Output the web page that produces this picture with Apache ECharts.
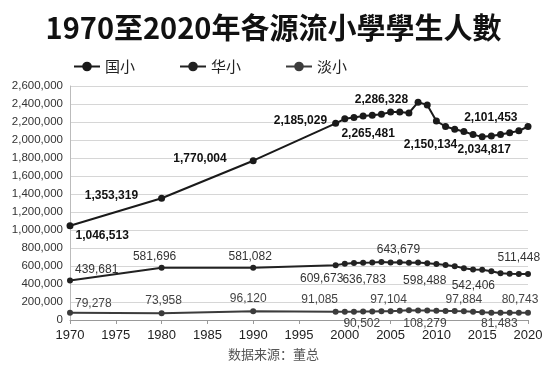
<!DOCTYPE html>
<html>
<head>
<meta charset="utf-8">
<script src="https://cdn.jsdelivr.net/npm/echarts@6/dist/echarts.min.js"></script>
<style>
  html, body { margin: 0; padding: 0; background: #fff; }
  #chart { width: 547px; height: 367px; }
</style>
</head>
<body>
<div id="chart"></div>
<script>
// 年份：1970、1980、1990，之后 1999-2020 逐年
const years = [1970, 1980, 1990, 1999, 2000, 2001, 2002, 2003, 2004, 2005, 2006, 2007,
  2008, 2009, 2010, 2011, 2012, 2013, 2014, 2015, 2016, 2017, 2018, 2019, 2020]

const seriesNames = ['国小', '华小', '淡小']

const national = [1046513, 1353319, 1770004, 2185029, 2235000, 2250000, 2265481, 2275000,
  2286328, 2310000, 2310000, 2300000, 2420000, 2390000, 2210000, 2150134, 2120000, 2095000,
  2060000, 2034817, 2045000, 2060000, 2080000, 2101453, 2150000]

const chinese = [439681, 581696, 581082, 609673, 625000, 632000, 636783, 639000, 643679,
  640000, 641000, 636000, 638000, 630000, 621000, 612000, 598488, 575000, 562000, 558000,
  542406, 520000, 513000, 511448, 510000]

const tamil = [79278, 73958, 96120, 91085, 90502, 92000, 94000, 95500, 96500, 97104, 102000,
  108279, 106000, 105000, 103000, 101000, 99000, 97884, 92000, 86000, 81483, 81000, 80500,
  80200, 80743]

const yTicks = { min: 0, max: 2600000, interval: 200000 }
const xTicks = { min: 1970, max: 2020, interval: 5 }

// 数据标签位置：[下标, 方位, dx, dy]
const nationalLabels = [
  [0, 'right', -3, 10], [1, 'left', -15, -3], [2, 'left', -18, -2], [3, 'left', 0, -3],
  [6, 'bottom', 5, 3], [8, 'top', 0, 0], [15, 'bottom', -15, 4], [19, 'bottom', 2, -2],
  [23, 'top', -28, 1],
]
const chineseLabels = [
  [0, 'right', -3, -11], [1, 'top', -7, 3], [2, 'top', -3, 3], [3, 'bottom', -14, 0],
  [6, 'bottom', 1, 3], [8, 'top', 17, 2], [16, 'bottom', -30, 1], [20, 'bottom', -18, 1],
  [23, 'top', 0, -2],
]
const tamilLabels = [
  [0, 'right', -3, -9], [1, 'top', 2, 1], [2, 'top', -5, 1], [3, 'top', -16, 2],
  [4, 'bottom', 17, -2], [9, 'top', -2, 2], [11, 'bottom', 16, -1], [17, 'top', 0, 2],
  [20, 'bottom', 8, -3], [24, 'top', -8, 1],
]

const fmt = (v) => v.toLocaleString('en-US')

function buildData(values, labels, labelStyle) {
  return values.map((v, i) => {
    const item = { value: [years[i], v] }
    const l = labels.find((x) => x[0] === i)
    if (l) {
      item.label = {
        show: true,
        position: l[1],
        offset: [l[2], l[3]],
        formatter: (p) => fmt(p.value[1]),
        ...labelStyle,
      }
    }
    return item
  })
}

function makeSeries(name, values, labels, color, symbolSize, labelStyle) {
  return {
    name,
    type: 'line',
    data: buildData(values, labels, labelStyle),
    symbol: 'circle',
    symbolSize,
    lineStyle: { color, width: 2 },
    itemStyle: { color },
    label: { show: false },
    z: 3,
  }
}

const chart = echarts.init(document.getElementById('chart'))

chart.setOption({
  animation: false,
  backgroundColor: '#fff',
  title: {
    text: '1970至2020年各源流小學學生人數',
    left: 'center',
    top: 8,
    textStyle: {
      fontFamily: '"Noto Sans CJK TC", sans-serif',
      fontSize: 29,
      fontWeight: 'bold',
      color: '#111',
    },
  },
  legend: {
    left: 68,
    top: 54,
    itemWidth: 26,
    itemHeight: 12,
    itemGap: 44,
    textStyle: {
      fontFamily: '"Noto Sans CJK SC", sans-serif',
      fontSize: 15,
      color: '#222',
    },
    data: seriesNames,
  },
  grid: { left: 70, right: 19, top: 86, bottom: 47, containLabel: false },
  xAxis: {
    type: 'value',
    ...xTicks,
    axisLine: { show: true, lineStyle: { color: '#999', width: 1 } },
    axisTick: { show: true, length: 4, lineStyle: { color: '#999' } },
    axisLabel: {
      color: '#222',
      fontSize: 13,
      margin: 9,
      fontFamily: '"Liberation Sans", Arial, sans-serif',
      formatter: (v) => String(v),
    },
    splitLine: { show: false },
  },
  yAxis: {
    type: 'value',
    ...yTicks,
    axisLine: { show: true, lineStyle: { color: '#bbb' } },
    axisTick: { show: false },
    axisLabel: {
      color: '#333',
      fontSize: 11.5,
      margin: 7,
      fontFamily: '"Liberation Sans", Arial, sans-serif',
      formatter: (v) => fmt(v),
    },
    splitLine: { lineStyle: { color: '#d6d6d6', width: 1 } },
  },
  series: [
    makeSeries(seriesNames[0], national, nationalLabels, '#1a1a1a', 7,
      { color: '#111', fontSize: 12, fontWeight: 'bold', fontFamily: '"Liberation Sans", Arial, sans-serif' }),
    makeSeries(seriesNames[1], chinese, chineseLabels, '#222', 6,
      { color: '#333', fontSize: 12, fontFamily: '"Liberation Sans", Arial, sans-serif' }),
    makeSeries(seriesNames[2], tamil, tamilLabels, '#3c3c3c', 6,
      { color: '#444', fontSize: 12, fontFamily: '"Liberation Sans", Arial, sans-serif' }),
  ],
  graphic: [
    {
      type: 'text',
      left: 'center',
      top: 348,
      style: {
        text: '数据来源：董总',
        fontFamily: '"Noto Sans CJK SC", sans-serif',
        fontSize: 13,
        fill: '#555',
      },
    },
  ],
})
</script>
</body>
</html>
